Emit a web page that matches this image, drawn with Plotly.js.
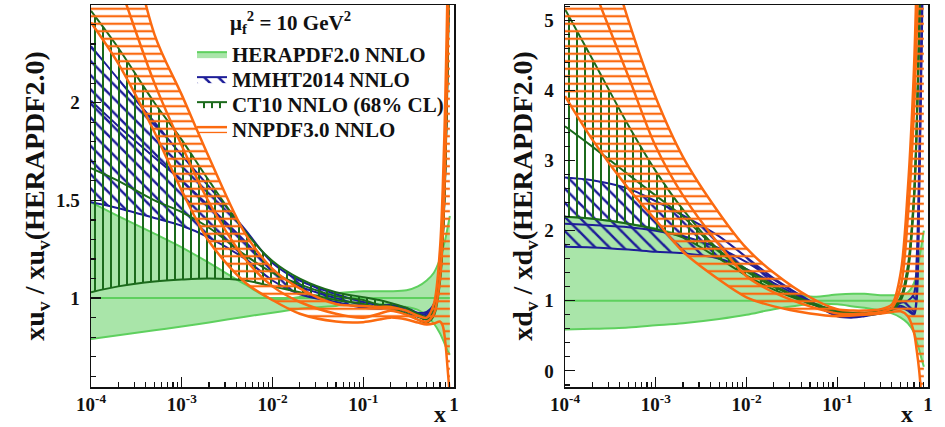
<!DOCTYPE html>
<html><head><meta charset="utf-8">
<script src="https://cdn.plot.ly/plotly-3.0.1.min.js"></script>
<style>html,body{margin:0;padding:0;background:#fff;} #chart{width:945px;height:427px;}</style>
</head><body><div id="chart"></div>
<script>
// x grid (shared by all curves)
const xGrid = [1e-4, 2e-4, 5e-4, 1e-3, 2e-3, 5e-3, 0.01, 0.02, 0.05, 0.1, 0.15, 0.2, 0.3, 0.4, 0.5, 0.6, 0.7, 0.75, 0.8, 0.85, 0.9];

// ---- u_v ratio (left panel)
const heraU_up = [1.49, 1.42, 1.33, 1.26, 1.18, 1.07, 0.995, 1.005, 1.025, 1.035, 1.035, 1.035, 1.04, 1.06, 1.09, 1.13, 1.2, 1.25, 1.3, 1.36, 1.42];
const heraU_c  = [1, 1, 1, 1, 1, 1, 1, 1, 1, 1, 1, 1, 1, 1, 1, 1, 1, 1, 1, 1, 1];
const heraU_dn = [0.79, 0.81, 0.835, 0.855, 0.875, 0.905, 0.925, 0.945, 0.96, 0.97, 0.97, 0.965, 0.955, 0.94, 0.91, 0.87, 0.82, 0.79, 0.76, 0.73, 0.71];

const mmhtU_up = [2.29, 2.12, 1.9, 1.73, 1.57, 1.35, 1.18, 1.09, 1.02, 0.98, 0.965, 0.965, 0.95, 0.925, 0.93, 0.97, 1.15, 1.35, 1.7, 2.3, 3.0];
const mmhtU_c  = [2.01, 1.88, 1.72, 1.6, 1.47, 1.29, 1.14, 1.06, 1.0, 0.965, 0.955, 0.96, 0.94, 0.915, 0.92, 0.96, 1.13, 1.32, 1.67, 2.25, 2.95];
const mmhtU_dn = [1.49, 1.46, 1.41, 1.37, 1.31, 1.2, 1.09, 1.02, 0.98, 0.95, 0.945, 0.95, 0.93, 0.905, 0.91, 0.95, 1.11, 1.3, 1.64, 2.2, 2.9];

const ct10U_up = [2.47, 2.28, 2.0, 1.81, 1.6, 1.34, 1.19, 1.1, 1.03, 1.005, 0.99, 0.975, 0.95, 0.92, 0.905, 0.95, 1.12, 1.32, 1.67, 2.25, 2.95];
const ct10U_c  = [1.665, 1.6, 1.5, 1.44, 1.36, 1.22, 1.13, 1.07, 1.01, 0.99, 0.965, 0.96, 0.935, 0.905, 0.89, 0.93, 1.1, 1.3, 1.65, 2.2, 2.9];
const ct10U_dn = [1.03, 1.06, 1.085, 1.095, 1.1, 1.09, 1.06, 1.03, 0.99, 0.97, 0.95, 0.945, 0.92, 0.89, 0.875, 0.91, 1.08, 1.28, 1.62, 2.15, 2.85];

const nnpdfU_up = [3.7, 3.1, 2.35, 2.04, 1.72, 1.33, 1.15, 1.05, 0.97, 0.96, 0.955, 0.955, 0.935, 0.91, 0.9, 0.97, 1.25, 1.55, 2.0, 2.6, 3.3];
const nnpdfU_c  = [3.0, 2.62, 2.1, 1.78, 1.49, 1.2, 1.06, 0.98, 0.92, 0.9, 0.92, 0.935, 0.915, 0.89, 0.88, 0.92, 1.1, 1.32, 1.7, 2.3, 3.0];
const nnpdfU_dn = [2.41, 2.2, 1.85, 1.55, 1.29, 1.08, 0.99, 0.92, 0.88, 0.877, 0.89, 0.9, 0.89, 0.875, 0.865, 0.87, 0.88, 0.86, 0.78, 0.64, 0.5];

// ---- d_v ratio (right panel)
const heraD_up = [2.2, 2.17, 2.1, 2.03, 1.93, 1.7, 1.45, 1.2, 1.06, 1.09, 1.1, 1.1, 1.08, 1.08, 1.08, 1.12, 1.25, 1.4, 1.6, 1.8, 2.0];
const heraD_c  = [1, 1, 1, 1, 1, 1, 1, 1, 1, 1, 1, 1, 1, 1, 1, 1, 1, 1, 1, 1, 1];
const heraD_dn = [0.59, 0.6, 0.62, 0.65, 0.68, 0.74, 0.8, 0.88, 0.95, 0.95, 0.92, 0.9, 0.86, 0.82, 0.76, 0.68, 0.55, 0.42, 0.3, 0.17, 0.06];

const mmhtD_up = [2.76, 2.72, 2.6, 2.42, 2.22, 1.92, 1.62, 1.32, 1.0, 0.8, 0.78, 0.8, 0.85, 0.9, 0.97, 1.0, 1.1, 1.6, 3.0, 5.0, 7.0];
const mmhtD_c  = [2.1, 2.08, 2.05, 2.0, 1.92, 1.75, 1.55, 1.3, 0.99, 0.79, 0.77, 0.79, 0.83, 0.88, 0.93, 0.88, 0.82, 1.15, 2.7, 4.8, 6.8];
const mmhtD_dn = [1.77, 1.76, 1.73, 1.7, 1.68, 1.6, 1.45, 1.25, 0.98, 0.78, 0.76, 0.78, 0.82, 0.87, 0.9, 0.86, 0.8, 1.0, 2.5, 4.5, 6.5];

const ct10D_up = [5.16, 4.45, 3.5, 2.85, 2.3, 1.72, 1.45, 1.22, 0.96, 0.85, 0.83, 0.83, 0.85, 0.9, 1.05, 1.5, 2.5, 3.5, 5.0, 6.5, 8.0];
const ct10D_c  = [3.49, 3.2, 2.8, 2.5, 2.2, 1.7, 1.42, 1.2, 0.98, 0.86, 0.82, 0.82, 0.84, 0.89, 1.03, 1.45, 2.45, 3.45, 4.9, 6.4, 7.9];
const ct10D_dn = [2.2, 2.17, 2.1, 2.02, 1.9, 1.6, 1.36, 1.16, 0.96, 0.84, 0.8, 0.8, 0.82, 0.87, 1.0, 1.4, 2.4, 3.4, 4.8, 6.3, 7.8];

const nnpdfD_up = [8.5, 6.8, 5.0, 3.9, 3.05, 2.25, 1.75, 1.4, 1.05, 0.88, 0.86, 0.86, 0.88, 0.95, 1.4, 2.6, 4.3, 5.6, 7.0, 8.5, 10];
const nnpdfD_c  = [6.5, 5.5, 4.2, 3.2, 2.5, 1.8, 1.35, 1.12, 0.92, 0.82, 0.81, 0.82, 0.84, 0.9, 1.2, 2.2, 3.7, 4.8, 6.3, 8.0, 9.5];
const nnpdfD_dn = [3.92, 3.3, 2.6, 2.15, 1.7, 1.3, 1.05, 0.92, 0.82, 0.78, 0.79, 0.8, 0.82, 0.84, 0.85, 0.78, 0.55, 0.3, 0.0, -0.4, -0.8];

// ticks / labels
const xTickVals = [1e-4, 1e-3, 1e-2, 1e-1, 1];
const xTickText = ['10<sup>-4</sup>', '10<sup>-3</sup>', '10<sup>-2</sup>', '10<sup>-1</sup>', '1'];
const yLeftTickVals = [1, 1.5, 2];
const yLeftTickText = ['1', '1.5', '2'];
const yRightTickVals = [0, 1, 2, 3, 4, 5];
const yRightTickText = ['0', '1', '2', '3', '4', '5'];
const legendNames = ['HERAPDF2.0 NNLO', 'MMHT2014 NNLO', 'CT10 NNLO (68% CL)', 'NNPDF3.0 NNLO'];

const FONT = 'Liberation Serif, Times New Roman, serif';
const C_HERA = '#5ed05e', C_HERA_FILL = 'rgba(112,212,112,0.6)';
const C_MMHT = '#1d1d98', C_CT10 = '#1b6a1b', C_NNPDF = '#fb6a10';

const traces = [];
function band(name, lo, c, hi, color, fillSpec, xa, ya, legendId, lw) {
  const line = {color: color, width: lw, shape: 'spline', smoothing: 0.9};
  traces.push({x: xGrid, y: lo, xaxis: xa, yaxis: ya, mode: 'lines', line: line,
               showlegend: false, hoverinfo: 'skip'});
  const up = {x: xGrid, y: hi, xaxis: xa, yaxis: ya, mode: 'lines', line: line,
              fill: 'tonexty', name: name, showlegend: !!legendId, hoverinfo: 'skip'};
  if (legendId) up.legend = legendId;
  Object.assign(up, fillSpec);
  traces.push(up);
  traces.push({x: xGrid, y: c, xaxis: xa, yaxis: ya, mode: 'lines', line: line,
               showlegend: false, hoverinfo: 'skip'});
}
const heraFill = {fillcolor: C_HERA_FILL};
const mmhtFill = {fillcolor: 'rgba(0,0,0,0)', fillpattern: {shape: '\\', fgcolor: C_MMHT, size: 10, solidity: 0.25, fillmode: 'replace'}};
const ct10Fill = {fillcolor: 'rgba(0,0,0,0)', fillpattern: {shape: '|', fgcolor: C_CT10, size: 8, solidity: 0.25, fillmode: 'replace'}};
const nnpdfFill = {fillcolor: 'rgba(0,0,0,0)', fillpattern: {shape: '-', fgcolor: C_NNPDF, size: 7.5, solidity: 0.3, fillmode: 'replace'}};

band(legendNames[0], heraU_dn, heraU_c, heraU_up, C_HERA, heraFill, 'x', 'y', 'legend', 2);
band(legendNames[1], mmhtU_dn, mmhtU_c, mmhtU_up, C_MMHT, mmhtFill, 'x', 'y', 'legend2', 2);
band(legendNames[2], ct10U_dn, ct10U_c, ct10U_up, C_CT10, ct10Fill, 'x', 'y', 'legend3', 2);
band(legendNames[3], nnpdfU_dn, nnpdfU_c, nnpdfU_up, C_NNPDF, nnpdfFill, 'x', 'y', 'legend4', 2.5);

band(legendNames[0], heraD_dn, heraD_c, heraD_up, C_HERA, heraFill, 'x2', 'y2', null, 2);
band(legendNames[1], mmhtD_dn, mmhtD_c, mmhtD_up, C_MMHT, mmhtFill, 'x2', 'y2', null, 2);
band(legendNames[2], ct10D_dn, ct10D_c, ct10D_up, C_CT10, ct10Fill, 'x2', 'y2', null, 2);
band(legendNames[3], nnpdfD_dn, nnpdfD_c, nnpdfD_up, C_NNPDF, nnpdfFill, 'x2', 'y2', null, 2.5);

const W = 945, H = 427;
const yDom = [1 - 387 / H, 1 - 5 / H];
const tickFont = {family: FONT, size: 19, color: '#111', weight: 'bold'};
function xAxis(dom, anchor) {
  return {type: 'log', range: [-4, 0], domain: dom, anchor: anchor,
    showline: true, mirror: true, linecolor: '#111', linewidth: 1.5,
    ticks: 'inside', ticklen: 10, tickwidth: 1.2, tickcolor: '#111',
    tickmode: 'array', tickvals: xTickVals, ticktext: xTickText, tickfont: tickFont,
    ticklabelstandoff: 0,
    minor: {ticks: 'inside', ticklen: 5, tickwidth: 1.2, tickcolor: '#111', dtick: 'D1', showgrid: false},
    showgrid: false, zeroline: false, fixedrange: true};
}
function yAxis(dom, anchor, range, vals, text, minorStep, title) {
  return {range: range, domain: dom, anchor: anchor,
    showline: true, mirror: true, linecolor: '#111', linewidth: 1.5,
    ticks: 'inside', ticklen: 10, tickwidth: 1.2, tickcolor: '#111',
    tickmode: 'array', tickvals: vals, ticktext: text, tickfont: tickFont,
    ticklabelstandoff: 6,
    minor: {ticks: 'inside', ticklen: 5, tickwidth: 1.2, tickcolor: '#111', dtick: minorStep, tick0: 0, showgrid: false},
    title: {text: title, font: {family: FONT, size: 28, color: '#111', weight: 'bold'}, standoff: 3},
    showgrid: false, zeroline: false, fixedrange: true};
}
function legendAt(topPx) {
  return {x: 192 / W, y: 1 - topPx / H, xanchor: 'left', yanchor: 'top',
          bgcolor: 'rgba(0,0,0,0)', borderwidth: 0, itemwidth: 30, tracegroupgap: 0,
          font: {family: FONT, size: 21, color: '#111', weight: 'bold'}};
}

const layout = {
  width: W, height: H, margin: {l: 0, r: 0, t: 0, b: 0},
  paper_bgcolor: '#fff', plot_bgcolor: '#fff',
  font: {family: FONT, color: '#111'},
  xaxis: xAxis([91 / W, 454 / W], 'y'),
  yaxis: yAxis(yDom, 'x', [0.545, 2.5], yLeftTickVals, yLeftTickText, 0.1,
               'xu<sub>v</sub> / xu<sub>v</sub>(HERAPDF2.0)'),
  xaxis2: xAxis([565 / W, 928 / W], 'y2'),
  yaxis2: yAxis(yDom, 'x2', [-0.23, 5.22], yRightTickVals, yRightTickText, 0.2,
               'xd<sub>v</sub> / xd<sub>v</sub>(HERAPDF2.0)'),
  showlegend: true,
  legend: legendAt(34), legend2: legendAt(59), legend3: legendAt(84), legend4: legendAt(109),
  annotations: [
    {text: 'μ<sub>f</sub><sup>2</sup> = 10 GeV<sup>2</sup>', x: 228 / W, y: 1 - 22 / H, xref: 'paper', yref: 'paper',
     xanchor: 'left', yanchor: 'middle', showarrow: false, font: {family: FONT, size: 21, color: '#111', weight: 'bold'}},
    {text: 'x', x: 440 / W, y: 1 - 414 / H, xref: 'paper', yref: 'paper', xanchor: 'center', yanchor: 'middle',
     showarrow: false, font: {family: FONT, size: 24, color: '#111', weight: 'bold'}},
    {text: 'x', x: 907 / W, y: 1 - 414 / H, xref: 'paper', yref: 'paper', xanchor: 'center', yanchor: 'middle',
     showarrow: false, font: {family: FONT, size: 24, color: '#111', weight: 'bold'}}
  ]
};
Plotly.newPlot('chart', traces, layout, {displayModeBar: false, staticPlot: true});
</script>
</body></html>
